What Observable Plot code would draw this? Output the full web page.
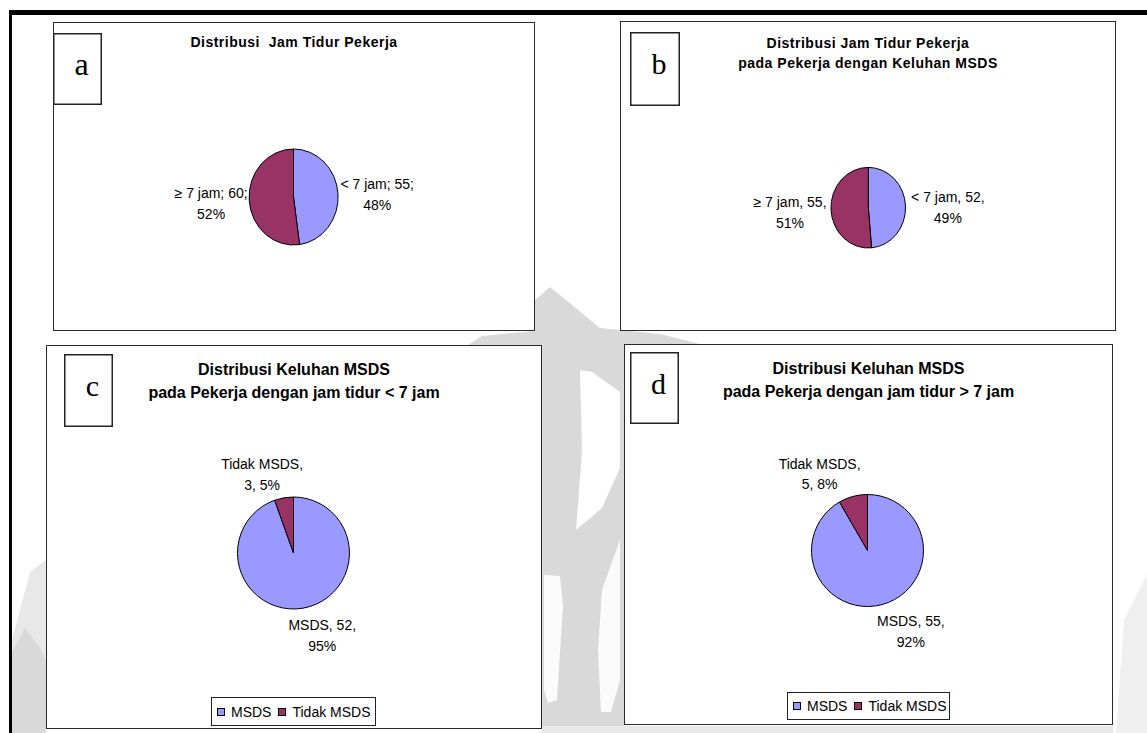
<!DOCTYPE html>
<html lang="id">
<head>
<meta charset="utf-8">
<title>Distribusi Jam Tidur dan Keluhan MSDS</title>
<script src="https://cdn.jsdelivr.net/npm/d3@7"></script>
<script src="https://cdn.jsdelivr.net/npm/@observablehq/plot@0.6"></script>
<style>
  html, body { margin: 0; padding: 0; background: #fff; }
  #page { position: relative; width: 1147px; height: 733px; overflow: hidden;
          font-family: "Liberation Sans", Arial, sans-serif; color: #000; }
  #backdrop { position: absolute; left: 0; top: 0; }
  .panel { position: absolute; box-sizing: border-box; background: #fff; border: 1.5px solid #2a2a2a; }
  .plot { position: absolute; }
  .title { position: absolute; text-align: center; font-weight: bold; white-space: pre; }
  .tag { position: absolute; }
  .legend { position: absolute; box-sizing: border-box; border: 1px solid #222; background: #fff;
            display: flex; align-items: center; font-size: 14px; padding-left: 5px; white-space: nowrap; }
  .legend .item { display: inline-flex; align-items: center; margin-right: 7px; }
  .legend .sw { display: inline-block; width: 8px; height: 8px; box-sizing: border-box;
                border: 1px solid #000; margin-right: 6px; }
</style>
</head>
<body>
<div id="page"></div>
<script>
// ---------- data ----------
const sleepGroups = ["< 7 jam", "≥ 7 jam"];
const sleepAllWorkers = [55, 60];          // semua pekerja
const sleepMsdsWorkers = [52, 55];         // pekerja dengan keluhan MSDS
const complaintGroups = ["MSDS", "Tidak MSDS"];
const complaintShortSleep = [52, 3];       // jam tidur < 7 jam
const complaintLongSleep = [55, 5];        // jam tidur > 7 jam
const sliceColors = ["#9999ff", "#993366"];

const titleA = ["Distribusi  Jam Tidur Pekerja"];
const titleB = ["Distribusi Jam Tidur Pekerja", "pada Pekerja dengan Keluhan MSDS"];
const titleC = ["Distribusi Keluhan MSDS", "pada Pekerja dengan jam tidur < 7 jam"];
const titleD = ["Distribusi Keluhan MSDS", "pada Pekerja dengan jam tidur > 7 jam"];

// ---------- layout ----------
const LABEL_SIZE = 14, LABEL_LINE = 21, LABEL_WRAP = 85;
const panels = [
  { id: "a", groups: sleepGroups, values: sleepAllWorkers, title: titleA, sep: ";",
    box: [53, 22, 482, 309], pie: { cx: 293.5, cy: 197, rx: 44.5, ry: 48, gap: 2 },
    tag: { x: 53, y: 33, w: 49, h: 72, size: 32 },
    head: { size: 14, spacing: 0.5, lineHeight: 20, top: 32 }, legend: null },
  { id: "b", groups: sleepGroups, values: sleepMsdsWorkers, title: titleB, sep: ",",
    box: [620, 21, 496, 310], pie: { cx: 868.3, cy: 207.7, rx: 37.3, ry: 40.3, gap: 5 },
    tag: { x: 630, y: 32, w: 50, h: 74, size: 30 },
    head: { size: 14, spacing: 0.5, lineHeight: 20, top: 33 }, legend: null },
  { id: "c", groups: complaintGroups, values: complaintShortSleep, title: titleC, sep: ",",
    box: [46, 345, 496, 384], pie: { cx: 293.5, cy: 553, rx: 56, ry: 56, gap: 8 },
    tag: { x: 64, y: 354, w: 49, h: 73, size: 30 },
    head: { size: 16, spacing: 0, lineHeight: 23, top: 357.5 },
    legend: { x: 211, y: 697, w: 165, h: 29 } },
  { id: "d", groups: complaintGroups, values: complaintLongSleep, title: titleD, sep: ",",
    box: [624, 344, 489, 381], pie: { cx: 867.5, cy: 550.5, rx: 56, ry: 56, gap: 8 },
    tag: { x: 630, y: 352, w: 49, h: 72, size: 30 },
    head: { size: 16, spacing: 0, lineHeight: 23, top: 356.5 },
    legend: { x: 787, y: 692, w: 163, h: 28 } }
];

const page = d3.select("#page");

// ---------- backdrop: frame rules and faint watermark ----------
const back = page.append("svg").attr("id", "backdrop").attr("width", 1147).attr("height", 733);
const shade = "#d9d9d9", light = "#e8e8e8";
const shapes = [
  { fill: shade, pts: [[535,300],[550,287],[566,300],[600,328],[660,334],[704,345],[624,345],[624,733],[542,733],[542,345],[468,345],[482,336],[535,331]] },
  { fill: "#fff", pts: [[580,370],[592,372],[620,392],[620,468],[602,508],[576,530],[582,452]] },
  { fill: "#fbfbfb", pts: [[544,575],[560,576],[563,605],[557,700],[548,703],[544,690]] },
  { fill: "#fbfbfb", pts: [[620,540],[602,590],[598,650],[601,712],[611,712],[620,680]] },
  { fill: light, pts: [[12,640],[30,572],[46,560],[46,733],[12,733]] },
  { fill: shade, pts: [[12,652],[25,628],[40,648],[46,660],[46,733],[12,733]] },
  { fill: light, pts: [[542,726],[1113,726],[1113,733],[542,733]] },
  { fill: "#efefef", pts: [[1124,620],[1147,575],[1147,733],[1116,733]] }
];
back.selectAll("polygon").data(shapes).join("polygon")
  .attr("points", d => d.pts.map(p => p.join(",")).join(" "))
  .attr("fill", d => d.fill);
back.append("rect").attr("x", 9).attr("y", 10).attr("width", 1138).attr("height", 5).attr("fill", "#000");
back.append("rect").attr("x", 9).attr("y", 10).attr("width", 3).attr("height", 723).attr("fill", "#000");

// ---------- label text and placement ----------
const ctx = document.createElement("canvas").getContext("2d");
ctx.font = `${LABEL_SIZE}px "Liberation Sans"`;
const measure = s => ctx.measureText(s).width;

// greedy word wrap of "category, value, percent" within a fixed width
function wrapLabel(tokens) {
  const lines = [];
  let cur = "";
  for (const t of tokens) {
    const next = cur ? cur + " " + t : t;
    if (cur && measure(next) > LABEL_WRAP) { lines.push(cur); cur = t; }
    else cur = next;
  }
  lines.push(cur);
  return lines;
}

function pieLabels(p, arcs) {
  const total = d3.sum(p.values);
  const { rx, ry, gap } = p.pie;
  return arcs.map((a, i) => {
    const mid = (a.startAngle + a.endAngle) / 2;
    const s = Math.sin(mid), c = Math.cos(mid);
    const pct = Math.round(p.values[i] / total * 100);
    const lines = wrapLabel([`${p.groups[i]}${p.sep}`, `${p.values[i]}${p.sep}`, `${pct}%`]);
    const w = d3.max(lines, measure);
    const h = (lines.length - 1) * LABEL_LINE + LABEL_SIZE;
    const k = Math.max(-1, Math.min(1, 3 * s));
    const px = s * (rx + gap) + k * w / 2;          // screen offset, right positive
    const py = -c * (ry + gap) - c * h / 2;         // screen offset, down positive
    return { x: px / rx, y: -py / ry, text: lines.join("\n") };
  });
}

// ---------- one pie chart per panel ----------
function pieChart(p) {
  const [left, top, w, h] = p.box;
  const cx = p.pie.cx - left, cy = p.pie.cy - top;
  const arcs = d3.pie().sort(null).value(d => d)(p.values);
  const labels = pieLabels(p, arcs);

  const slices = (index, scales) => {
    const x0 = scales.x(0), y0 = scales.y(0);
    const sx = scales.x(1) - x0, sy = y0 - scales.y(1);
    const arc = d3.arc().innerRadius(0).outerRadius(1);
    const g = d3.create("svg:g").attr("transform", `translate(${x0},${y0}) scale(${sx},${sy})`);
    g.selectAll("path").data(arcs).join("path")
      .attr("d", arc)
      .attr("fill", (d, i) => sliceColors[i])
      .attr("stroke", "#000")
      .attr("stroke-width", 1)
      .attr("vector-effect", "non-scaling-stroke");
    return g.node();
  };

  return Plot.plot({
    width: w, height: h, margin: 0,
    x: { domain: [-1, 1], range: [cx - p.pie.rx, cx + p.pie.rx], axis: null },
    y: { domain: [-1, 1], range: [cy + p.pie.ry, cy - p.pie.ry], axis: null },
    style: { background: "transparent", overflow: "visible", fontFamily: "Liberation Sans, Arial, sans-serif" },
    marks: [
      slices,
      Plot.text(labels, { x: "x", y: "y", text: "text", fontSize: LABEL_SIZE,
        lineHeight: LABEL_LINE / LABEL_SIZE, textAnchor: "middle", fill: "#000" })
    ]
  });
}

for (const p of panels) {
  const [left, top, w, h] = p.box;
  page.append("div").attr("class", "panel")
    .style("left", left + "px").style("top", top + "px")
    .style("width", w + "px").style("height", h + "px");

  const chart = pieChart(p);
  chart.classList.add("plot");
  chart.style.left = left + "px";
  chart.style.top = top + "px";
  page.node().appendChild(chart);

  // title
  page.append("div").attr("class", "title")
    .style("left", left + "px").style("width", w + "px")
    .style("top", p.head.top + "px")
    .style("font-size", p.head.size + "px")
    .style("letter-spacing", p.head.spacing + "px")
    .style("line-height", p.head.lineHeight + "px")
    .text(p.title.join("\n"));

  // panel letter
  const t = p.tag;
  const tag = page.append("svg").attr("class", "tag")
    .style("left", t.x + "px").style("top", t.y + "px")
    .attr("width", t.w).attr("height", t.h);
  tag.append("rect").attr("x", 0.75).attr("y", 0.75)
    .attr("width", t.w - 1.5).attr("height", t.h - 1.5)
    .attr("fill", "#fff").attr("stroke", "#222").attr("stroke-width", 1.5);
  tag.append("text").attr("x", t.w / 2 + 4).attr("y", 41.5)
    .attr("text-anchor", "middle").attr("font-family", "Liberation Serif, Times New Roman, serif")
    .attr("font-size", t.size).text(p.id);

  // legend
  if (p.legend) {
    const L = p.legend;
    const lg = page.append("div").attr("class", "legend")
      .style("left", L.x + "px").style("top", L.y + "px")
      .style("width", L.w + "px").style("height", L.h + "px");
    p.groups.forEach((g, i) => {
      const item = lg.append("span").attr("class", "item");
      item.append("span").attr("class", "sw").style("background", sliceColors[i]);
      item.append("span").text(g);
    });
  }
}
</script>
</body>
</html>
